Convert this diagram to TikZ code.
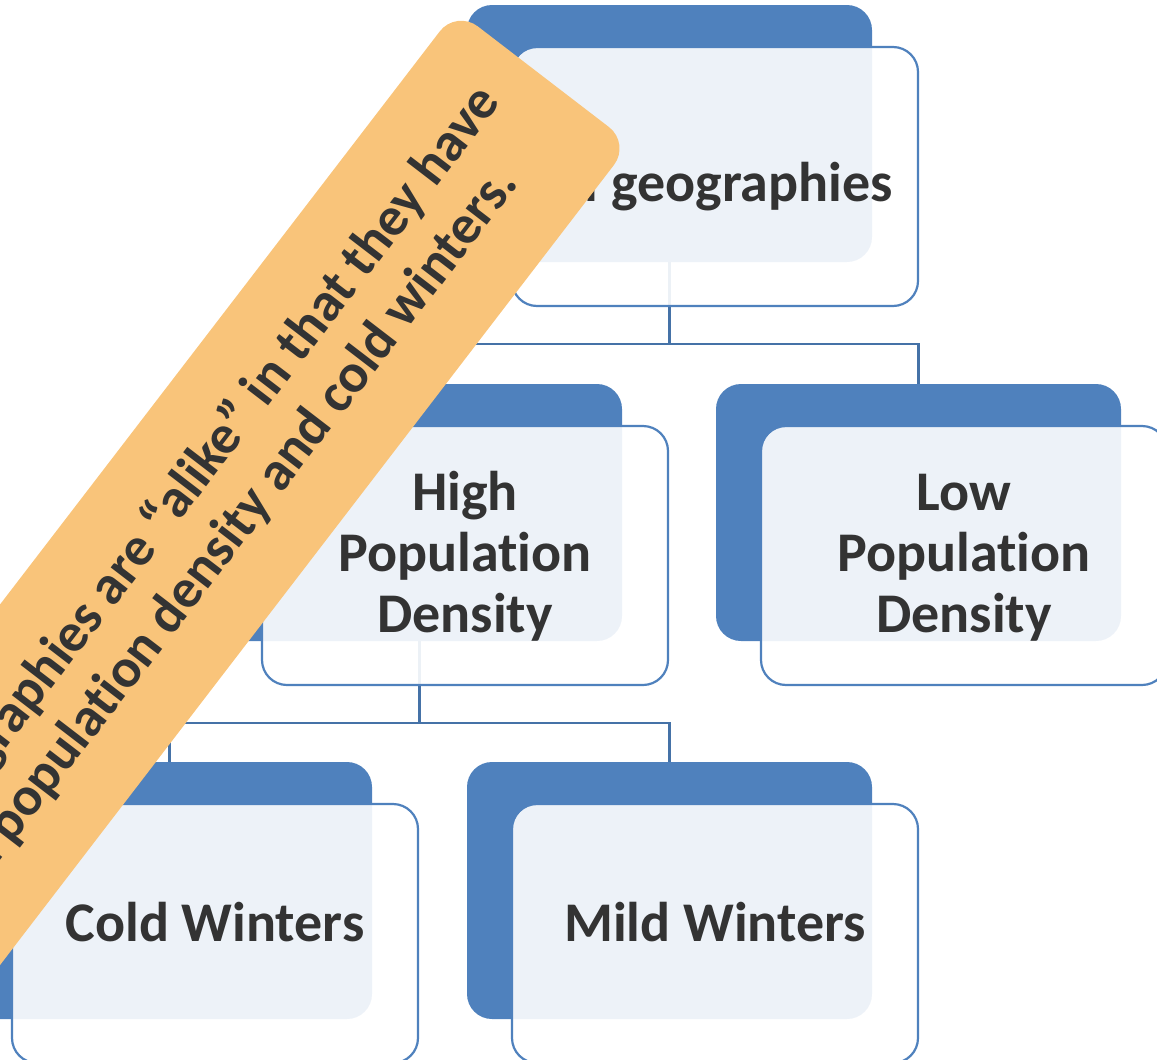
\documentclass[tikz,border=0pt]{standalone}
\usepackage{fontspec}
\setmainfont{Carlito}[Ligatures={NoCommon,NoContextual}]
\usetikzlibrary{calc}
\definecolor{boxblue}{RGB}{79,129,189}
\definecolor{linkblue}{RGB}{69,114,167}
\definecolor{notefill}{RGB}{249,196,122}
\definecolor{inkgray}{RGB}{51,51,51}
\begin{document}
\begin{tikzpicture}[x=1pt,y=-1pt,
  backbox/.style={fill=boxblue, rounded corners=25pt, minimum width=405pt,
    minimum height=257pt, inner sep=0pt},
  frontbox/.style={draw=boxblue, line width=2.2pt, fill=white, fill opacity=0.9,
    rounded corners=25pt, minimum width=406pt, minimum height=259pt, inner sep=0pt},
  boxtext/.style={text=inkgray, font=\fontsize{56}{61}\selectfont\bfseries,
    align=center, inner sep=0pt},
  connector/.style={draw=linkblue, line width=2.2pt},
  notebox/.style={fill=notefill, rounded corners=27pt, inner sep=0pt,
    minimum width=1500pt, minimum height=219.5pt},
  notetext/.style={text=inkgray, font=\fontsize{55}{64}\selectfont\bfseries,
    inner sep=0pt}]
\useasboundingbox (0,0) rectangle (1157,1060);
\clip (0,0) rectangle (1157,1060);

% solid blue back plates
\node[backbox] (topb)  at (669.5,133.5) {};
\node[backbox] (highb) at (419.5,512.5) {};
\node[backbox] (lowb)  at (918.5,512.5) {};
\node[backbox] (coldb) at (169.5,890.5) {};
\node[backbox] (mildb) at (669.5,890.5) {};

% elbow connectors between levels
\coordinate (j1) at ($(topb.south)+(0,82)$);
\draw[connector] (topb.south) -- (j1);
\draw[connector] (highb.north) |- (j1) -| (lowb.north);
\coordinate (j2) at ($(highb.south)+(0,82)$);
\draw[connector] (highb.south) -- (j2);
\draw[connector] (coldb.north) |- (j2) -| (mildb.north);

% translucent outlined front cards
\node[frontbox] (topf)  at ($(topb)+(45.5,43)$) {};
\node[frontbox] (highf) at ($(highb)+(45.5,43)$) {};
\node[frontbox] (lowf)  at ($(lowb)+(45.5,43)$) {};
\node[frontbox] (coldf) at ($(coldb)+(45.5,43)$) {};
\node[frontbox] (mildf) at ($(mildb)+(45.5,43)$) {};

% card labels (multi-line nodes sit on the baseline of their last line)
\node[boxtext, anchor=base] (toptxt)  at (715,201) {All geographies};
\node[boxtext, anchor=base] (hightxt) at (465,632) {High\\Population\\Density};
\node[boxtext, anchor=base] (lowtxt)  at (964,632) {Low\\Population\\Density};
\node[boxtext, anchor=base] (coldtxt) at (215,941) {Cold Winters};
\node[boxtext, anchor=base] (mildtxt) at (715,941) {Mild Winters};

% tilted note banner
\begin{scope}[shift={(543.45,76.55)}, rotate=52.5, transform shape]
  \node[notebox, anchor=east] (note) at (0,0) {};
  \node[notetext, anchor=base east] (noteA) at (-46,-17.4)
    {Both geographies are “alike” in that they have};
  \node[notetext, anchor=base east] (noteB) at (-99.8,46.3)
    {high population density and cold winters.};
\end{scope}
\end{tikzpicture}
\end{document}
